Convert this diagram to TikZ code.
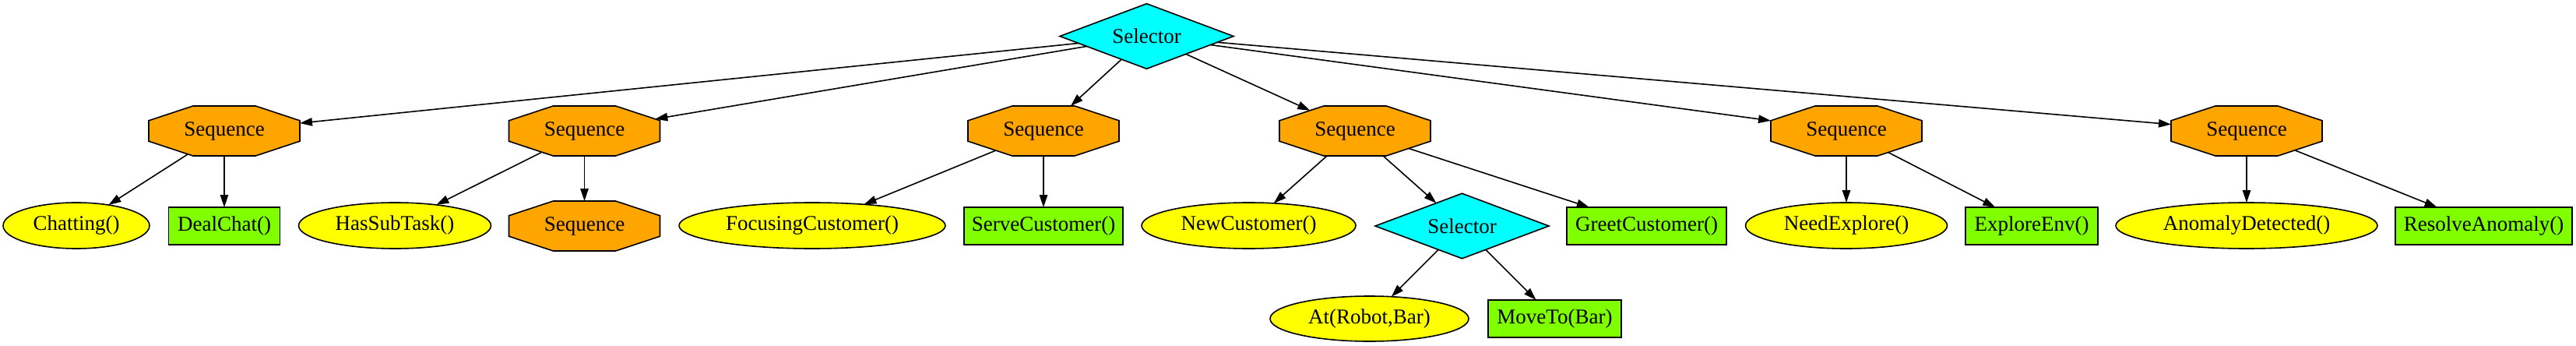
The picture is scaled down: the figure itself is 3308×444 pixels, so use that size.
\documentclass[tikz,border=0pt]{standalone}
\usepackage{fontspec}
\setmainfont{Liberation Serif}
\usetikzlibrary{shapes.geometric,arrows.meta}
\definecolor{gvorange}{HTML}{FFA500}
\definecolor{gvcyan}{HTML}{00FFFF}
\definecolor{gvyellow}{HTML}{FFFF00}
\definecolor{gvgreen}{HTML}{7FFF00}
\makeatletter
\pgfdeclareshape{gvoctagon}{%
  \inheritsavedanchors[from=rectangle]%
  \inheritanchor[from=rectangle]{center}%
  \inheritanchor[from=rectangle]{north}%
  \inheritanchor[from=rectangle]{south}%
  \inheritanchor[from=rectangle]{east}%
  \inheritanchor[from=rectangle]{west}%
  \inheritanchor[from=rectangle]{base}%
  \inheritanchor[from=rectangle]{mid}%
  \backgroundpath{%
    \southwest\edef\gvxa{\the\pgf@x}\edef\gvya{\the\pgf@y}%
    \northeast\edef\gvxb{\the\pgf@x}\edef\gvyb{\the\pgf@y}%
    \pgfmathsetmacro\gvcx{0.293*((\gvxb)-(\gvxa))}%
    \pgfmathsetmacro\gvcy{0.293*((\gvyb)-(\gvya))}%
    \pgfpathmoveto{\pgfqpoint{\dimexpr\gvxa+\gvcx pt\relax}{\gvyb}}%
    \pgfpathlineto{\pgfqpoint{\dimexpr\gvxb-\gvcx pt\relax}{\gvyb}}%
    \pgfpathlineto{\pgfqpoint{\gvxb}{\dimexpr\gvyb-\gvcy pt\relax}}%
    \pgfpathlineto{\pgfqpoint{\gvxb}{\dimexpr\gvya+\gvcy pt\relax}}%
    \pgfpathlineto{\pgfqpoint{\dimexpr\gvxb-\gvcx pt\relax}{\gvya}}%
    \pgfpathlineto{\pgfqpoint{\dimexpr\gvxa+\gvcx pt\relax}{\gvya}}%
    \pgfpathlineto{\pgfqpoint{\gvxa}{\dimexpr\gvya+\gvcy pt\relax}}%
    \pgfpathlineto{\pgfqpoint{\gvxa}{\dimexpr\gvyb-\gvcy pt\relax}}%
    \pgfpathclose
  }%
  \anchorborder{%
    \edef\gvdx{\the\pgf@x}\edef\gvdy{\the\pgf@y}%
    \southwest\edef\gvxa{\the\pgf@x}\edef\gvya{\the\pgf@y}%
    \northeast\edef\gvxb{\the\pgf@x}\edef\gvyb{\the\pgf@y}%
    \pgfmathsetmacro\gva{((\gvxb)-(\gvxa))/2}%
    \pgfmathsetmacro\gvb{((\gvyb)-(\gvya))/2}%
    \pgfmathsetmacro\gvmx{((\gvxb)+(\gvxa))/2}%
    \pgfmathsetmacro\gvmy{((\gvyb)+(\gvya))/2}%
    \pgfmathsetmacro\gvcx{0.586*\gva}%
    \pgfmathsetmacro\gvcy{0.586*\gvb}%
    \pgfmathsetmacro\gvn{abs(\gvdx)+abs(\gvdy)+0.001}%
    \pgfmathsetmacro\gvux{(\gvdx)/\gvn}%
    \pgfmathsetmacro\gvuy{(\gvdy)/\gvn}%
    \pgfmathsetmacro\gvpx{max(abs(\gvux),0.01)}%
    \pgfmathsetmacro\gvpy{max(abs(\gvuy),0.01)}%
    \pgfmathsetmacro\gvt{min(\gva/\gvpx,\gvb/\gvpy,(\gvcy*\gva+\gvcx*\gvb-\gvcx*\gvcy)/(\gvcy*\gvpx+\gvcx*\gvpy))}%
    \pgfmathsetmacro\gvrx{\gvmx+\gvt*(\gvux)}%
    \pgfmathsetmacro\gvry{\gvmy+\gvt*(\gvuy)}%
    \pgf@x=\gvrx pt\relax
    \pgf@y=\gvry pt\relax
  }%
}
\makeatother
\tikzset{
  gvnode/.style={font=\fontsize{13.5pt}{16pt}\selectfont, inner sep=0pt, outer sep=0pt, draw=black, line width=0.8pt},
  seqnode/.style={gvnode, shape=gvoctagon, fill=gvorange, minimum width=97pt, minimum height=32pt},
  selnode/.style={gvnode, diamond, aspect=2.7, fill=gvcyan, minimum width=111.5pt, minimum height=41.75pt},
  condnode/.style={gvnode, ellipse, fill=gvyellow, minimum height=29.5pt},
  actnode/.style={gvnode, rectangle, fill=gvgreen, minimum height=24pt},
  conn/.style={-{Triangle[length=8pt,width=5.2pt]}, line width=0.8pt, draw=black}
}
\begin{document}
\begin{tikzpicture}[x=0.5pt,y=-0.5pt]
\useasboundingbox (0,0) rectangle (3308,444);
% top selector
\node[selnode] (sel) at (1472.5,46.5) {Selector};
% sequences
\node[seqnode] (s1) at (288,168) {Sequence};
\node[seqnode] (s2) at (750.5,168) {Sequence};
\node[seqnode] (s3) at (1340,168) {Sequence};
\node[seqnode] (s4) at (1740,168) {Sequence};
\node[seqnode] (s5) at (2371,168) {Sequence};
\node[seqnode] (s6) at (2885,168) {Sequence};
% row 2
\node[condnode, minimum width=94pt] (chat) at (98,289.5) {Chatting()};
\node[actnode, minimum width=71.5pt] (deal) at (288,290) {DealChat()};
\node[condnode, minimum width=123.5pt] (hassub) at (507,289.5) {HasSubTask()};
\node[seqnode] (s7) at (750.5,290) {Sequence};
\node[condnode, minimum width=171pt] (focus) at (1043,289.5) {FocusingCustomer()};
\node[actnode, minimum width=102pt] (serve) at (1340,290) {ServeCustomer()};
\node[condnode, minimum width=137.5pt] (newc) at (1603.5,289.5) {NewCustomer()};
\node[selnode] (sel2) at (1877.5,290) {Selector};
\node[actnode, minimum width=102.5pt] (greet) at (2114.5,290) {GreetCustomer()};
\node[condnode, minimum width=129.5pt] (need) at (2371,289.5) {NeedExplore()};
\node[actnode, minimum width=85pt] (explore) at (2609,290) {ExploreEnv()};
\node[condnode, minimum width=168pt] (anomaly) at (2885,289.5) {AnomalyDetected()};
\node[actnode, minimum width=113.5pt] (resolve) at (3189.5,290) {ResolveAnomaly()};
% row 3
\node[condnode, minimum width=127.5pt, minimum height=29pt] (atrobot) at (1758.5,409) {At(Robot,Bar)};
\node[actnode, minimum width=85.5pt] (moveto) at (1996.5,409) {MoveTo(Bar)};
% connectors
\foreach \t in {s1,s2,s3,s4,s5,s6} \draw[conn] (sel) -- (\t);
\draw[conn] (s1) -- (chat);
\draw[conn] (s1) -- (deal);
\draw[conn] (s2) -- (hassub);
\draw[conn] (s2) -- (s7);
\draw[conn] (s3) -- (focus);
\draw[conn] (s3) -- (serve);
\draw[conn] (s4) -- (newc);
\draw[conn] (s4) -- (sel2);
\draw[conn] (s4) -- (greet);
\draw[conn] (sel2) -- (atrobot);
\draw[conn] (sel2) -- (moveto);
\draw[conn] (s5) -- (need);
\draw[conn] (s5) -- (explore);
\draw[conn] (s6) -- (anomaly);
\draw[conn] (s6) -- (resolve);
\end{tikzpicture}
\end{document}
